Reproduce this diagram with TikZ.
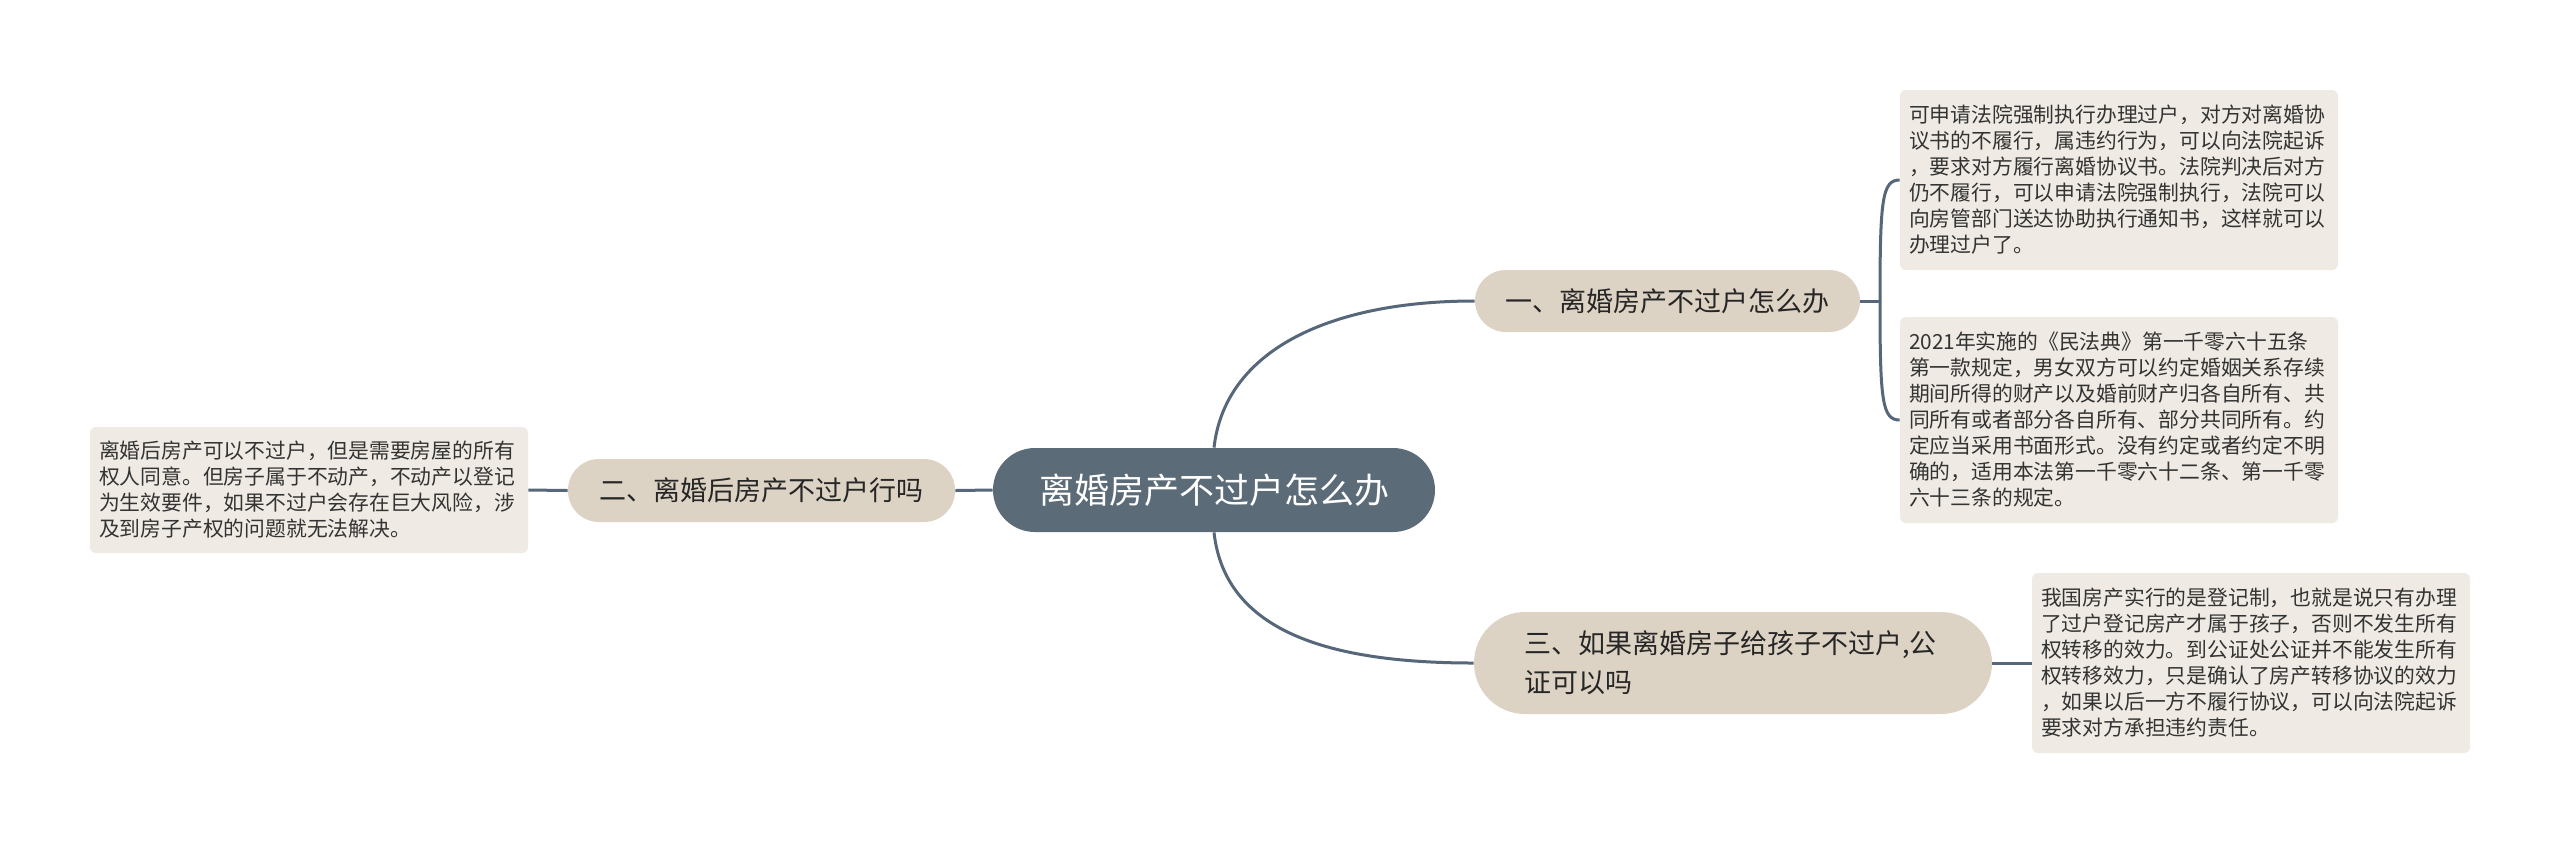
\documentclass[tikz,border=0pt]{standalone}
\usepackage{fontspec}
\setmainfont{Noto Sans CJK SC}
\usepackage{xcolor}
\usepackage{tikz}
\definecolor{rootfill}{HTML}{5B6B78}
\definecolor{branchfill}{HTML}{DDD3C4}
\definecolor{leaffill}{HTML}{EFEBE4}
\definecolor{linkcol}{HTML}{56677A}
\definecolor{leaftext}{HTML}{333333}

\begin{document}
\begin{tikzpicture}[x=0.5pt, y=-0.5pt,
  rootbox/.style={fill=rootfill, text=white, rounded corners=21pt, minimum width=221pt, minimum height=42pt, inner sep=0pt, font=\fontsize{17.5}{21}\selectfont},
  branchbox/.style={fill=branchfill, text=black!85, minimum height=31pt, inner sep=0pt, rounded corners=15.5pt, font=\fontsize{13.5}{16}\selectfont},
  leafbox/.style={fill=leaffill, text=leaftext, rounded corners=3pt, inner xsep=4.5pt, inner ysep=0pt, text width=210pt, align=left, font=\fontsize{10.4}{13}\selectfont},
  link/.style={draw=linkcol, line width=1.5pt}]
  % 1. Nen va khung
  \fill[white] (0,0) rectangle (2560,843);
  \useasboundingbox (0,0) rectangle (2560,843);

  % 2. Nut goc
  \node[rootbox] (root) at (1214,490) {离婚房产不过户怎么办};

  % 3. Cac nhanh
  \node[branchbox, minimum width=192.5pt] (b1) at (1667.5,301) {一、离婚房产不过户怎么办};
  \node[branchbox, minimum width=193.5pt, minimum height=31.5pt] (b2) at (761.5,490.5) {二、离婚后房产不过户行吗};
  \node[branchbox, minimum width=259pt, minimum height=51pt, rounded corners=25.5pt, text width=209pt, align=left, font=\fontsize{13.5}{19.5}\selectfont] (b3) at (1733,663) {三、如果离婚房子给孩子不过户,公\\证可以吗};

  % 4. Cac la
  \node[leafbox, minimum height=90pt] (l1) at (2119,180) {可申请法院强制执行办理过户，对方对离婚协\\议书的不履行，属违约行为，可以向法院起诉\\，要求对方履行离婚协议书。法院判决后对方\\仍不履行，可以申请法院强制执行，法院可以\\向房管部门送达协助执行通知书，这样就可以\\办理过户了。};
  \node[leafbox, minimum height=103pt] (l2) at (2119,420) {2021年实施的《民法典》第一千零六十五条\\第一款规定，男女双方可以约定婚姻关系存续\\期间所得的财产以及婚前财产归各自所有、共\\同所有或者部分各自所有、部分共同所有。约\\定应当采用书面形式。没有约定或者约定不明\\确的，适用本法第一千零六十二条、第一千零\\六十三条的规定。};
  \node[leafbox, minimum height=90pt] (l3) at (2251,663) {我国房产实行的是登记制，也就是说只有办理\\了过户登记房产才属于孩子，否则不发生所有\\权转移的效力。到公证处公证并不能发生所有\\权转移效力，只是确认了房产转移协议的效力\\，如果以后一方不履行协议，可以向法院起诉\\要求对方承担违约责任。};
  \node[leafbox, minimum height=63pt] (l4) at (309,490) {离婚后房产可以不过户，但是需要房屋的所有\\权人同意。但房子属于不动产，不动产以登记\\为生效要件，如果不过户会存在巨大风险，涉\\及到房子产权的问题就无法解决。};

  % 5. Duong noi
  \draw[link] (root.north) .. controls (1225,350) and (1330,301) .. (b1.west);
  \draw[link] (root.south) .. controls (1225,632) and (1330,663) .. (b3.west);
  \draw[link] (root.west) -- (b2.east);
  \draw[link] (b2.west) -- (l4.east);
  \coordinate (j1) at (1880,301);
  \draw[link] (b1.east) -- (j1);
  \draw[link] (j1) .. controls (1880,200) and (1882,180) .. (l1.west);
  \draw[link] (j1) .. controls (1880,400) and (1882,420) .. (l2.west);
  \draw[link] (b3.east) -- (l3.west);
\end{tikzpicture}
\end{document}
